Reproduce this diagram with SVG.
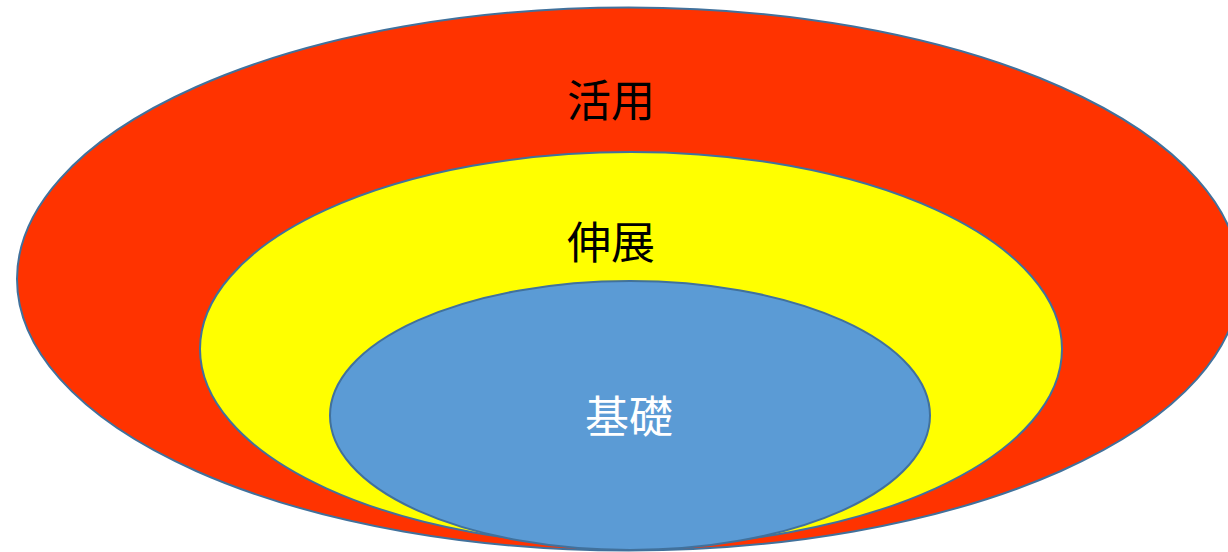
<svg xmlns="http://www.w3.org/2000/svg" width="1228" height="552" viewBox="0 0 1228 552">
<style>
.ring{stroke:#41719C;stroke-width:2}
.lbl{font-family:"Noto Sans CJK JP","Noto Sans CJK SC",sans-serif;font-size:44px;text-anchor:middle;dominant-baseline:central}
</style>
<rect width="1228" height="552" fill="#FFFFFF"/>
<g id="katsuyou">
<ellipse class="ring" cx="628.5" cy="279" rx="611.5" ry="271.5" fill="#FF3300"/>
<text class="lbl" x="611" y="98" fill="#000000">活用</text>
</g>
<g id="shinten">
<ellipse class="ring" cx="631" cy="349" rx="431" ry="197" fill="#FFFF00"/>
<text class="lbl" x="611" y="240" fill="#000000">伸展</text>
</g>
<g id="kiso">
<ellipse class="ring" cx="630" cy="415.5" rx="300" ry="134.5" fill="#5B9BD5"/>
<text class="lbl" x="629" y="414" fill="#FFFFFF">基礎</text>
</g>
<g id="connectors"/>
</svg>
